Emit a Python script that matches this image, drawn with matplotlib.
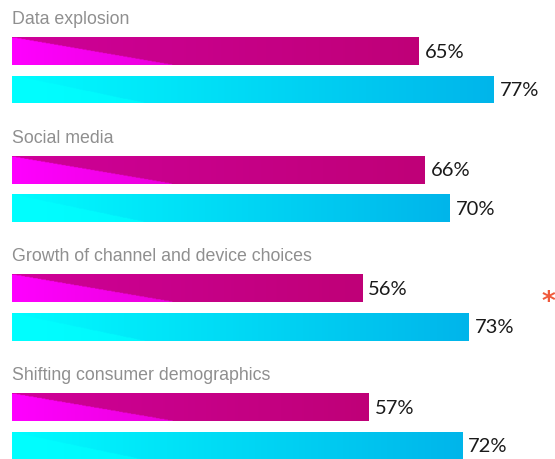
import numpy as np
from matplotlib import pyplot as plt

## Survey values (percent)
categories = ['Data explosion', 'Social media',
              'Growth of channel and device choices', 'Shifting consumer demographics']
series_a = [65, 66, 56, 57]   # magenta bars
series_b = [77, 70, 73, 72]   # cyan bars
starred = 2                   # group marked with an asterisk

## Layout (pixel-like units on the y axis)
W, H = 555, 459
px_per_pct = 6.25
x0_px = 12
group_step = 118.7
label_y0 = 19.5
bar_a_y0 = 51
bar_b_y0 = 89.5
bar_h = 28

fig = plt.figure(figsize=(W / 100, H / 100), dpi=100)
ax = fig.add_axes([0, 0, 1, 1])
ax.set_xlim(-x0_px / px_per_pct, (W - x0_px) / px_per_pct)
ax.set_ylim(H, 0)
ax.axis('off')


def gradient_bar(y, value, kind):
    bar = ax.barh(y, value, height=bar_h, left=0, color='none', edgecolor='none')[0]
    nx, ny = 300, 40
    xs = np.linspace(0, value, nx)
    ts = np.linspace(0, 1, ny)
    X, T = np.meshgrid(xs, ts)
    f = X / value
    img = np.zeros((ny, nx, 3))
    if kind == 'a':
        dl, dr = np.array([0.81, 0.0, 0.60]), np.array([0.75, 0.0, 0.47])
        ll, lr = np.array([1.0, 0.0, 1.0]), np.array([0.92, 0.0, 0.86])
        split_w = 25.6
    else:
        dl, dr = np.array([0.0, 0.99, 1.0]), np.array([0.0, 0.71, 0.92])
        ll, lr = np.array([0.0, 1.0, 1.0]), np.array([0.0, 0.97, 0.99])
        split_w = 21.0
    light = X < split_w * T
    g = np.clip(X / split_w, 0, 1)
    for c in range(3):
        dark_c = dl[c] + (dr[c] - dl[c]) * f
        light_c = ll[c] + (lr[c] - ll[c]) * g
        img[..., c] = np.where(light, light_c, dark_c)
    im = ax.imshow(img, extent=[0, value, y + bar_h / 2, y - bar_h / 2],
                   aspect='auto', interpolation='bilinear', zorder=2)
    im.set_clip_path(bar)
    ax.text(value + 1.0, y + 1, f'{value}%', va='center', ha='left',
            fontsize=14.5, family='Lato', color='#1a1a1a')


for i, name in enumerate(categories):
    base = i * group_step
    ax.text(0, label_y0 + base, name, va='center', ha='left',
            fontsize=12.8, family='Liberation Sans', color='#8f8f8f')
    gradient_bar(bar_a_y0 + base, series_a[i], 'a')
    gradient_bar(bar_b_y0 + base, series_b[i], 'b')

ax.text((548 - x0_px) / px_per_pct, 303 + (starred - 2) * group_step, '*',
        ha='center', va='center', fontsize=19, fontweight='bold', color='#f05a3c')

fig.savefig('out.png', dpi=100)
